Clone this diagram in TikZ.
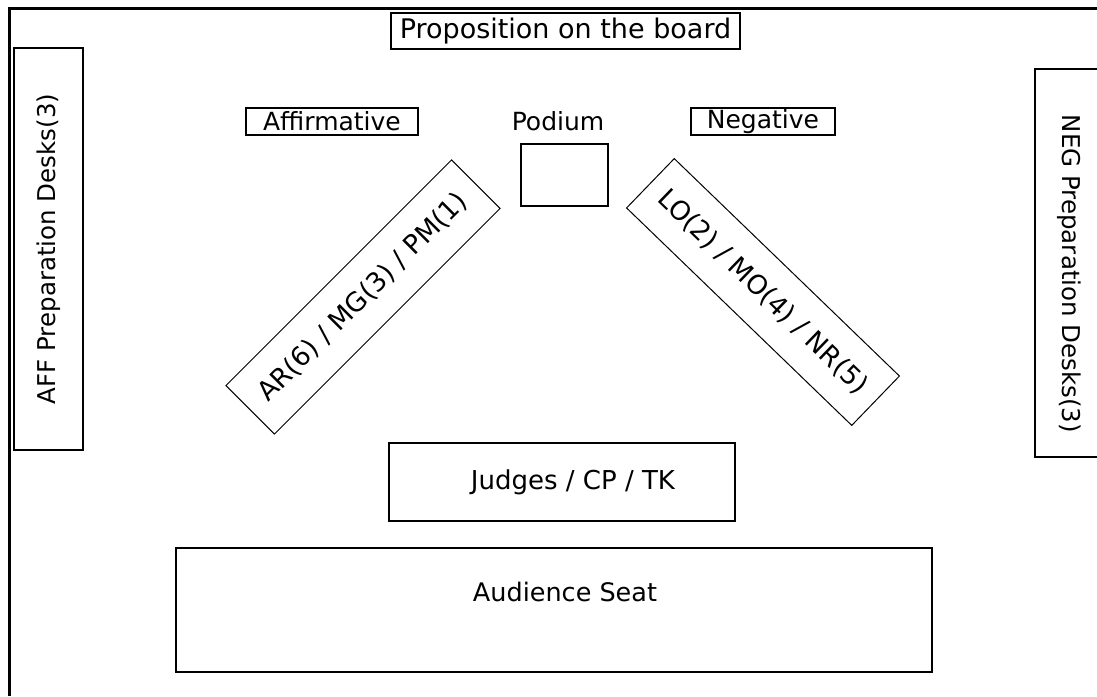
\documentclass[tikz,border=0pt]{standalone}
\usepackage{fontspec}
\setmainfont{DejaVu Sans}

\tikzset{
  sign/.style={draw, line width=1.6pt, inner sep=0pt, font=\fontsize{25}{30}\selectfont},
  desks/.style={draw, line width=1.1pt, inner sep=0pt, font=\fontsize{24.5}{30}\selectfont},
  seats/.style={draw, line width=1pt, inner sep=0pt, font=\fontsize{26.5}{30}\selectfont},
}

\begin{document}
\begin{tikzpicture}[x=1pt,y=1pt]
  \useasboundingbox (0,0) rectangle (1097,696);
  % walls of the room
  \draw[line width=3pt] (9,0) |- (1097,687);

  \node[sign, minimum width=349, minimum height=36, font=\fontsize{27}{30}\selectfont] (board) at (565.5,665) {Proposition on the board};

  % preparation desks along the side walls
  \node[desks, rotate=90, minimum width=402, minimum height=69] (affdesks) at (48.5,447) {AFF Preparation Desks(3)};
  \node[desks, rotate=-90, minimum width=388, minimum height=69] (negdesks) at (1069.5,433) {\hspace{22pt}NEG Preparation Desks(3)};

  \node[sign, minimum width=172, minimum height=27] (aff) at (332,574.5) {Affirmative};
  \node[sign, minimum width=144, minimum height=27] (neg) at (763,574.5) {Negative};

  \node[font=\fontsize{25}{30}\selectfont] (podiumtext) at (558,575) {Podium};
  \node[draw, line width=1.2pt, minimum width=87, minimum height=62] (podium) at (564.5,521) {};

  % team benches
  \node[seats, rotate=45, minimum width=319, minimum height=68.6] (affseats) at (363,399) {AR(6) / MG(3) / PM(1)};
  \node[seats, rotate=-44, minimum width=313, minimum height=68.6] (negseats) at (763,404) {LO(2) / MO(4) / NR(5)};

  \node[sign, line width=2pt, minimum width=346, minimum height=78, font=\fontsize{26}{30}\selectfont] (judges) at (562,214) {\hspace{22pt}Judges / CP / TK};

  \node[draw, line width=2pt, minimum width=756, minimum height=124] (audience) at (554,86) {};
  \node[font=\fontsize{25.5}{30}\selectfont] (audiencetext) at ([xshift=11,yshift=18]audience.center) {Audience Seat};
\end{tikzpicture}
\end{document}
